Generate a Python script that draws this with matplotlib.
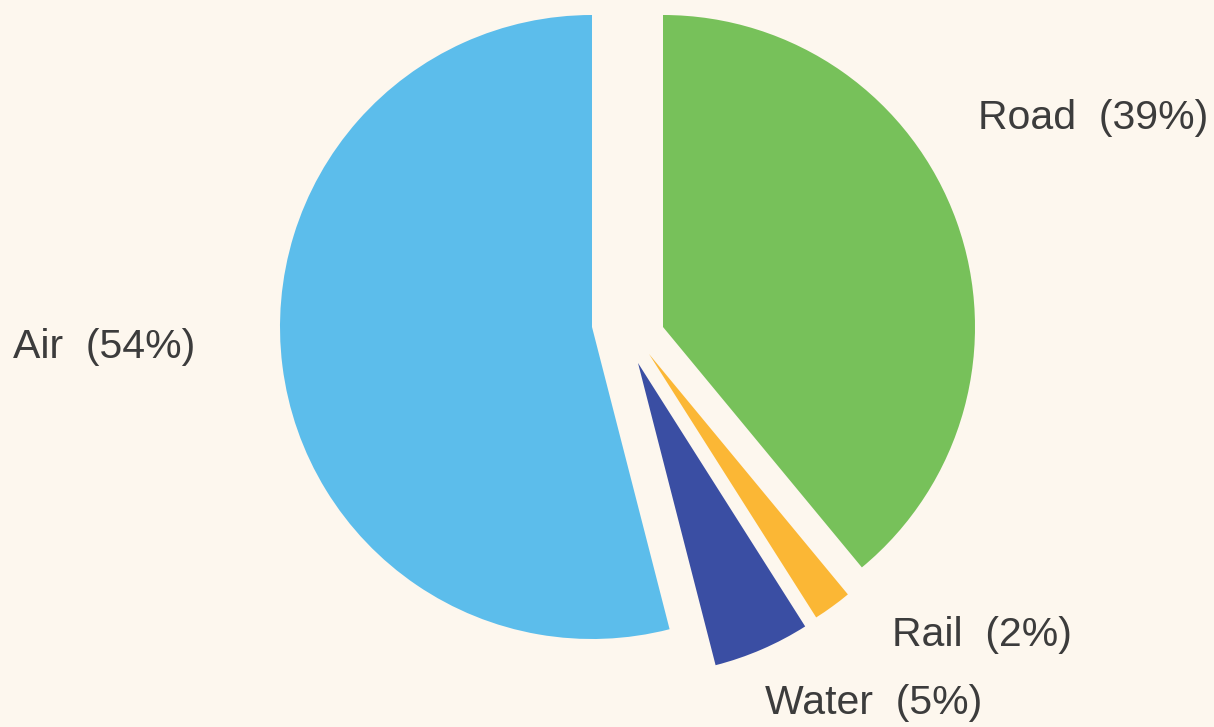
import matplotlib.pyplot as plt

# transport mode shares
modes = ["Road", "Rail", "Water", "Air"]
shares = [39, 2, 5, 54]
colors = ["#77c15a", "#fbb735", "#3a4ea3", "#5cbdeb"]

# wedge shifts (in pixels) and label anchors, picked by eye
shifts = [(35.5, 0), (21.5, -27), (10.5, -36), (-35.5, 0)]
label_pos = [(978, 609), (892, 92), (765, 24.5), (13, 380)]

bg = "#fdf7ee"

fig = plt.figure(figsize=(12.14, 7.27), dpi=100)
fig.patch.set_facecolor(bg)
ax = fig.add_axes([0, 0, 1, 1])
ax.set_facecolor(bg)
ax.set_xlim(0, 1214)
ax.set_ylim(0, 727)
ax.axis("off")

cx, cy = 627.5, 400
wedges, _ = ax.pie(shares, colors=colors, startangle=90, counterclock=False,
                   center=(cx, cy), radius=312, frame=True,
                   wedgeprops=dict(linewidth=0))
ax.set_xlim(0, 1214)
ax.set_ylim(0, 727)
ax.set_aspect("auto")
ax.axis("off")

for w, (dx, dy) in zip(wedges, shifts):
    w.set_center((cx + dx, cy + dy))

for m, s, (x, y) in zip(modes, shares, label_pos):
    ax.text(x, y, f"{m}  ({s}%)", fontsize=29.5, family="Liberation Sans",
            color="#3c3c3c", ha="left", va="center")

fig.savefig("out.png", dpi=100, facecolor=bg)
